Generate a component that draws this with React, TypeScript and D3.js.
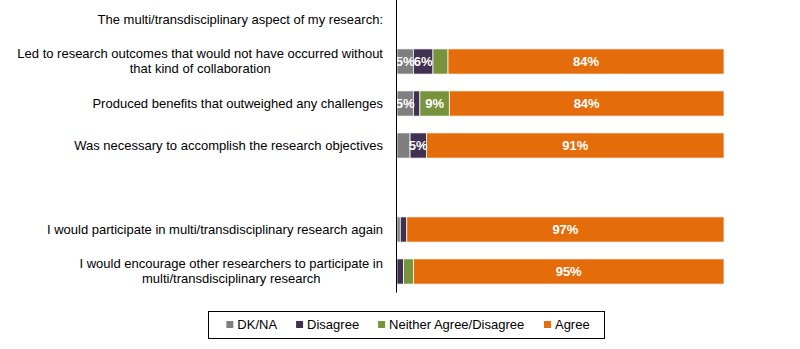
import React from "react";
import * as d3 from "d3";

const categories: string[] = [
  "The multi/transdisciplinary aspect of my research:",
  "Led to research outcomes that would not have occurred without\nthat kind of collaboration",
  "Produced benefits that outweighed any challenges",
  "Was necessary to accomplish the research objectives",
  " ",
  "I would participate in multi/transdisciplinary research again",
  "I would encourage other researchers to participate in\nmulti/transdisciplinary research",
];

const seriesNames: string[] = ["DK/NA", "Disagree", "Neither Agree/Disagree", "Agree"];
const seriesColors: string[] = ["#7F7F7F", "#403152", "#77933C", "#E46C0A"];

// values per category (null = no bar)
const dkna: (number | null)[] = [null, 5, 5, 4, null, 1, 0];
const disagree: (number | null)[] = [null, 6, 2, 5, null, 2, 2];
const neither: (number | null)[] = [null, 4.6, 9, 0, null, 0, 3];
const agree: (number | null)[] = [null, 84.4, 84, 91, null, 97, 95];

const labelThreshold = 5;

const W = 800;
const H = 349;
const FONT = "Arial, 'Liberation Sans', sans-serif";

function measure(text: string, font: string): number {
  const c = document.createElement("canvas");
  const ctx = c.getContext("2d")!;
  ctx.font = font;
  return ctx.measureText(text).width;
}

export default function App() {
  const series = [dkna, disagree, neither, agree];
  const x = d3.scaleLinear().domain([0, 100]).range([397, 724]);
  const y = d3
    .scaleBand<string>()
    .domain(categories)
    .range([-1.5, 292.5])
    .paddingInner(0.4)
    .paddingOuter(0.2);

  const rows = categories.map((cat, i) => {
    const vals = series.map((s) => s[i]);
    let acc = 0;
    const segs = vals.map((v, k) => {
      const v0 = acc;
      acc += v ?? 0;
      return { k, v, v0, v1: acc };
    });
    return { cat, i, segs, hasBar: vals.some((v) => v !== null) };
  });

  const labelRight = 383;
  const labelFont = `13px ${FONT}`;

  // legend layout
  const legendBox = { x: 208, y: 311, w: 396, h: 27 };
  const sq = 7;
  const gapSqText = 4;
  const gapItems = 19;
  const items: { name: string; color: string; x: number; tw: number }[] = [];
  let lx = 0;
  seriesNames.forEach((n, k) => {
    const tw = measure(n, labelFont);
    items.push({ name: n, color: seriesColors[k], x: lx, tw });
    lx += sq + gapSqText + tw + gapItems;
  });
  const totalW = lx - gapItems;
  const legendStart = legendBox.x + legendBox.w / 2 - totalW / 2 + 2;
  const legendCy = legendBox.y + legendBox.h / 2;

  return (
    <svg
      width={W}
      height={H}
      style={{ position: "absolute", left: 0, top: 0, background: "#fff" }}
      fontFamily={FONT}
    >
      {rows.map((r) =>
        r.hasBar
          ? r.segs.map((s) =>
              s.v && s.v > 0 ? (
                <rect
                  key={`b${r.i}-${s.k}`}
                  x={x(s.v0)}
                  y={y(r.cat)!}
                  width={x(s.v1) - x(s.v0)}
                  height={y.bandwidth()}
                  fill={seriesColors[s.k]}
                  stroke="#fff"
                  strokeWidth={0.75}
                />
              ) : null
            )
          : null
      )}
      {rows.map((r) =>
        r.hasBar
          ? r.segs.map((s) =>
              s.v !== null && s.v >= labelThreshold ? (
                <text
                  key={`l${r.i}-${s.k}`}
                  x={(x(s.v0) + x(s.v1)) / 2}
                  y={y(r.cat)! + y.bandwidth() / 2 + 4.5}
                  textAnchor="middle"
                  fill="#fff"
                  fontWeight="bold"
                  fontSize={13}
                >
                  {`${Math.round(s.v)}%`}
                </text>
              ) : null
            )
          : null
      )}
      <line x1={396.5} x2={396.5} y1={0} y2={292.5} stroke="#000" strokeWidth={1} />
      {rows.map((r) => {
        const lines = r.cat.split("\n");
        const widths = lines.map((l) => measure(l, labelFont));
        const maxW = Math.max(...widths);
        const cx = labelRight - maxW / 2;
        const cy = y(r.cat)! + y.bandwidth() / 2;
        const n = lines.length;
        return lines.map((l, j) => (
          <text
            key={`c${r.i}-${j}`}
            x={cx}
            y={cy + 4.2 + (j - (n - 1) / 2) * 15}
            textAnchor="middle"
            fontSize={13}
            fill="#000"
          >
            {l}
          </text>
        ));
      })}
      <rect
        x={legendBox.x + 0.5}
        y={legendBox.y + 0.5}
        width={legendBox.w}
        height={legendBox.h}
        fill="#fff"
        stroke="#000"
        strokeWidth={1}
      />
      {items.map((it) => (
        <g key={it.name} transform={`translate(${legendStart + it.x},${legendCy})`}>
          <rect x={0} y={-sq / 2} width={sq} height={sq} fill={it.color} />
          <text x={sq + gapSqText} y={4.5} fontSize={13} fill="#000">
            {it.name}
          </text>
        </g>
      ))}
    </svg>
  );
}
